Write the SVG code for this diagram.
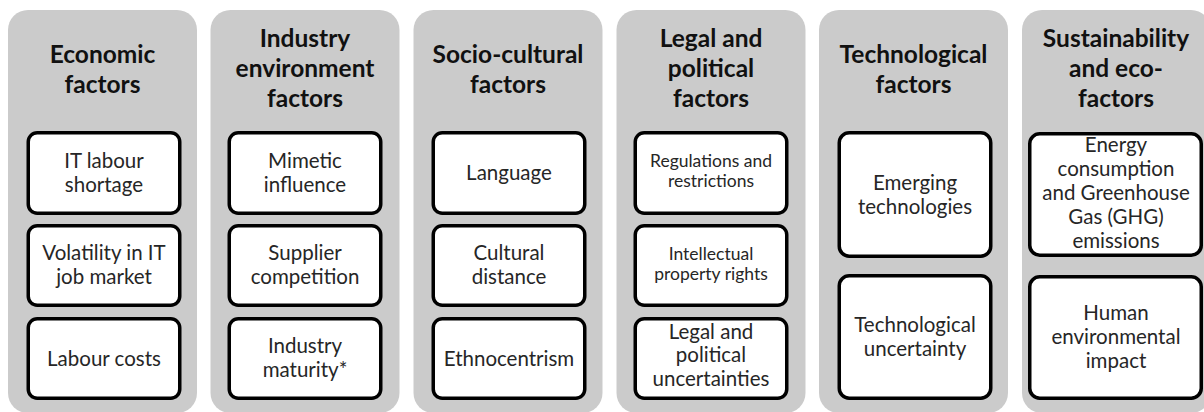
<svg xmlns="http://www.w3.org/2000/svg" width="1204" height="412" viewBox="0 0 1204 412">
<style>
.panel{fill:#cbcbcb}
.box{fill:#ffffff;stroke:#000000;stroke-width:3.5}
.title{font-family:Lato,"Liberation Sans",sans-serif;font-weight:bold;font-size:24.5px;fill:#111111;text-anchor:middle}
.t{font-family:Lato,"Liberation Sans",sans-serif;font-size:20.5px;fill:#262626;text-anchor:middle}
.s{font-family:Lato,"Liberation Sans",sans-serif;font-size:17.5px;fill:#262626;text-anchor:middle}
</style>
<rect width="1204" height="412" fill="#ffffff"/>
<g id="panel-economic">
<rect class="panel" x="8" y="10" width="189" height="403" rx="20"/>
<text class="title" x="102.5" y="63">Economic</text>
<text class="title" x="102.5" y="93">factors</text>
<g id="node-it-labour-shortage"><rect class="box" x="28.25" y="132.75" width="151.5" height="80.5" rx="9"/>
<text class="t" x="104" y="168">IT labour</text><text class="t" x="104" y="192">shortage</text></g>
<g id="node-volatility"><rect class="box" x="28.25" y="225.75" width="151.5" height="79.5" rx="9"/>
<text class="t" x="104" y="260">Volatility in IT</text><text class="t" x="104" y="284">job market</text></g>
<g id="node-labour-costs"><rect class="box" x="28.25" y="318.75" width="151.5" height="79.5" rx="9"/>
<text class="t" x="104" y="365.5">Labour costs</text></g>
</g>
<g id="panel-industry">
<rect class="panel" x="210.5" y="10" width="189" height="403" rx="20"/>
<text class="title" x="305" y="47">Industry</text>
<text class="title" x="305" y="77">environment</text>
<text class="title" x="305" y="107">factors</text>
<g id="node-mimetic"><rect class="box" x="229.25" y="132.75" width="151.5" height="80.5" rx="9"/>
<text class="t" x="305" y="168">Mimetic</text><text class="t" x="305" y="192">influence</text></g>
<g id="node-supplier"><rect class="box" x="229.25" y="225.75" width="151.5" height="79.5" rx="9"/>
<text class="t" x="305" y="260">Supplier</text><text class="t" x="305" y="284">competition</text></g>
<g id="node-maturity"><rect class="box" x="229.25" y="318.75" width="151.5" height="79.5" rx="9"/>
<text class="t" x="305" y="353">Industry</text><text class="t" x="305" y="377">maturity*</text></g>
</g>
<g id="panel-socio">
<rect class="panel" x="413.5" y="10" width="189" height="403" rx="20"/>
<text class="title" x="508" y="63">Socio-cultural</text>
<text class="title" x="508" y="93">factors</text>
<g id="node-language"><rect class="box" x="433.25" y="132.75" width="151.5" height="80.5" rx="9"/>
<text class="t" x="509" y="180">Language</text></g>
<g id="node-cultural-distance"><rect class="box" x="433.25" y="225.75" width="151.5" height="79.5" rx="9"/>
<text class="t" x="509" y="260">Cultural</text><text class="t" x="509" y="284">distance</text></g>
<g id="node-ethnocentrism"><rect class="box" x="433.25" y="318.75" width="151.5" height="79.5" rx="9"/>
<text class="t" x="509" y="365.5">Ethnocentrism</text></g>
</g>
<g id="panel-legal">
<rect class="panel" x="616.5" y="10" width="189" height="403" rx="20"/>
<text class="title" x="711" y="47">Legal and</text>
<text class="title" x="711" y="77">political</text>
<text class="title" x="711" y="107">factors</text>
<g id="node-regulations"><rect class="box" x="635.25" y="132.75" width="151.5" height="80.5" rx="9"/>
<text class="s" x="711" y="167">Regulations and</text><text class="s" x="711" y="187">restrictions</text></g>
<g id="node-ip-rights"><rect class="box" x="635.25" y="225.75" width="151.5" height="79.5" rx="9"/>
<text class="s" x="711" y="259.5">Intellectual</text><text class="s" x="711" y="280">property rights</text></g>
<g id="node-legal-uncertainties"><rect class="box" x="635.25" y="318.75" width="151.5" height="79.5" rx="9"/>
<text class="t" x="711" y="338.5">Legal and</text><text class="t" x="711" y="362">political</text><text class="t" x="711" y="385.5">uncertainties</text></g>
</g>
<g id="panel-technological">
<rect class="panel" x="819" y="10" width="189" height="403" rx="20"/>
<text class="title" x="913.5" y="63">Technological</text>
<text class="title" x="913.5" y="93">factors</text>
<g id="node-emerging"><rect class="box" x="839.25" y="132.75" width="151.5" height="123.5" rx="10"/>
<text class="t" x="915" y="190">Emerging</text><text class="t" x="915" y="214">technologies</text></g>
<g id="node-tech-uncertainty"><rect class="box" x="839.25" y="275.75" width="151.5" height="122.5" rx="10"/>
<text class="t" x="915" y="332">Technological</text><text class="t" x="915" y="356">uncertainty</text></g>
</g>
<g id="panel-sustainability">
<rect class="panel" x="1022" y="10" width="189" height="403" rx="20"/>
<text class="title" x="1116" y="47">Sustainability</text>
<text class="title" x="1116" y="77">and eco-</text>
<text class="title" x="1116" y="107">factors</text>
<g id="node-energy"><rect class="box" x="1029.75" y="133.75" width="171.5" height="121.5" rx="10"/>
<text class="t" x="1116" y="152">Energy</text><text class="t" x="1116" y="176">consumption</text><text class="t" x="1116" y="200">and Greenhouse</text><text class="t" x="1116" y="224">Gas (GHG)</text><text class="t" x="1116" y="248">emissions</text></g>
<g id="node-human-impact"><rect class="box" x="1029.75" y="276.75" width="171.5" height="121.5" rx="10"/>
<text class="t" x="1116" y="320">Human</text><text class="t" x="1116" y="344">environmental</text><text class="t" x="1116" y="368">impact</text></g>
</g>
<g id="connectors"/>
</svg>
